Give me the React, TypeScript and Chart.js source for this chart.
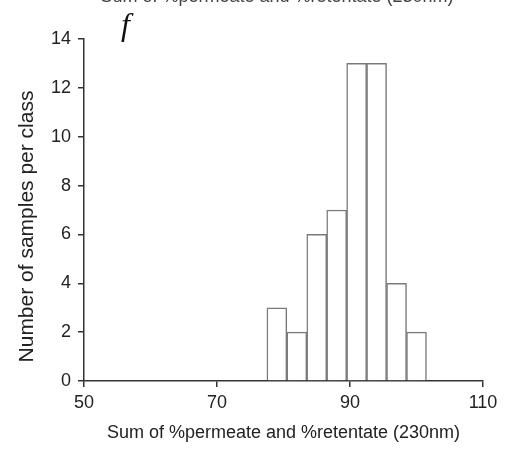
import React, { useEffect, useRef } from "react";
import { Chart, registerables } from "chart.js";

Chart.register(...registerables);

const binCenters = [79, 82, 85, 88, 91, 94, 97, 100];
const counts = [3, 2, 6, 7, 13, 13, 4, 2];
const xTickValues = [50, 70, 90, 110];
const yTickValues = [0, 2, 4, 6, 8, 10, 12, 14];
const xTitle = "Sum of %permeate and %retentate (230nm)";
const yTitle = "Number of samples per class";
const topTitle = "Sum of %permeate and %retentate (230nm)";
const panelLabel = "f";

const FONT = '"Liberation Sans", Arial, sans-serif';
const AXIS = "#333333";

export default function App() {
  const ref = useRef<HTMLCanvasElement | null>(null);

  useEffect(() => {
    document.body.style.margin = "0";
    const canvas = ref.current;
    if (!canvas) return;

    const textPlugin = {
      id: "texts",
      afterDraw(chart: any) {
        const ctx = chart.ctx as CanvasRenderingContext2D;
        const area = chart.chartArea;
        ctx.save();
        ctx.fillStyle = "#222";
        ctx.textAlign = "center";
        ctx.textBaseline = "alphabetic";
        // y title
        ctx.font = `21px ${FONT}`;
        ctx.save();
        ctx.translate(33, 226.5);
        ctx.rotate(-Math.PI / 2);
        ctx.fillText(yTitle, 0, 0);
        ctx.restore();
        // x title
        ctx.font = `18px ${FONT}`;
        ctx.fillText(xTitle, (area.left + area.right) / 2, 438);
        // top cut-off title
        ctx.fillStyle = "#444";
        ctx.fillText(topTitle, 277, 2);
        // panel label
        ctx.fillStyle = "#111";
        ctx.font = `italic 32px "Liberation Serif", "DejaVu Serif", serif`;
        ctx.textAlign = "left";
        ctx.fillText(panelLabel, 121, 35);
        ctx.restore();
      },
    };

    const chart = new Chart(canvas, {
      type: "bar",
      data: {
        datasets: [
          {
            data: binCenters.map((x, i) => ({ x, y: counts[i] })),
            backgroundColor: "#ffffff",
            borderColor: "#7a7a7a",
            borderWidth: 1.5,
            barPercentage: 1,
            categoryPercentage: 1,
          },
        ],
      },
      options: {
        responsive: false,
        animation: false,
        layout: { padding: { top: 39, right: 34, left: 0, bottom: 0 } },
        plugins: {
          legend: { display: false },
          tooltip: { enabled: false },
          title: { display: false },
        },
        scales: {
          x: {
            type: "linear",
            offset: false,
            min: 50,
            max: 110,
            afterFit: (s: any) => {
              s.height = 81;
            },
            afterBuildTicks: (s: any) => {
              s.ticks = xTickValues.map((v) => ({ value: v }));
            },
            ticks: {
              font: { family: FONT, size: 18 },
              color: "#222",
              padding: 5,
              maxRotation: 0,
            },
            grid: {
              offset: false,
              drawOnChartArea: false,
              drawTicks: true,
              tickLength: 6,
              color: AXIS,
              lineWidth: 1.5,
            },
            border: { display: true, color: AXIS, width: 1.5 },
          },
          y: {
            min: 0,
            max: 14,
            afterFit: (s: any) => {
              s.width = 84;
            },
            afterBuildTicks: (s: any) => {
              s.ticks = yTickValues.map((v) => ({ value: v }));
            },
            ticks: {
              font: { family: FONT, size: 18 },
              color: "#222",
              padding: 7,
            },
            grid: {
              drawOnChartArea: false,
              drawTicks: true,
              tickLength: 6,
              color: AXIS,
              lineWidth: 1.5,
            },
            border: { display: true, color: AXIS, width: 1.5 },
          },
        },
      },
      plugins: [textPlugin],
    } as any);

    return () => chart.destroy();
  }, []);

  return (
    <div style={{ position: "absolute", left: 0, top: 0, width: 517, height: 462, background: "#fff" }}>
      <canvas ref={ref} width={517} height={462} style={{ display: "block" }} />
    </div>
  );
}
